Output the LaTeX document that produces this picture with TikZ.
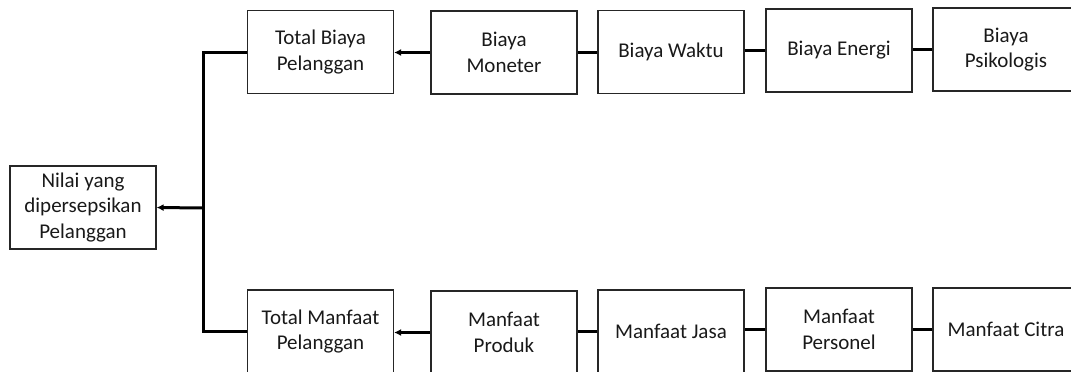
\documentclass[tikz,border=0pt]{standalone}
\usepackage{fontspec}
\setmainfont{Carlito}
\usetikzlibrary{arrows.meta,calc}
\begin{document}
\begin{tikzpicture}[x=1pt,y=-1pt,
  box/.style={draw=black!85,line width=1.2pt,minimum width=146pt,minimum height=83pt,
    inner sep=0pt,align=flush center,text width=142pt,
    font=\fontsize{21pt}{25.4pt}\selectfont,text=black!90},
  link/.style={line width=3pt,draw=black},
  arr/.style={link,-{Latex[length=7pt,width=7pt]}}]
\useasboundingbox (0,0) rectangle (1071,372);
\clip (0,0) rectangle (1071,372);
\node[box] (nilai) at (83,207.5) {Nilai yang\\dipersepsikan\\Pelanggan};
\node[box] (tb) at (320.5,52) {Total Biaya\\Pelanggan};
\node[box] (bm) at (504,52.5) {Biaya\\Moneter};
\node[box] (bw) at (671,52) {Biaya Waktu};
\node[box] (be) at (839,50.5) {Biaya Energi};
\node[box] (bp) at (1006,49.5) {Biaya\\Psikologis};
\node[box] (tm) at (320.5,331.5) {Total Manfaat\\Pelanggan};
\node[box] (mp) at (504,332.5) {Manfaat\\Produk};
\node[box] (mj) at (671,331.5) {Manfaat Jasa};
\node[box] (mr) at (839,329.5) {Manfaat\\Personel};
\node[box] (mc) at (1006,329.5) {Manfaat Citra};
\coordinate (bus) at (203,208);
\draw[link] (tb.west) -| (bus) |- (tm.west);
\draw[arr] (bus) -- (nilai.east);
\draw[arr] (bm.west) -- (bm.west -| tb.east);
\draw[link] (bw.west) -- (bw.west -| bm.east);
\draw[link] (be.west) -- (be.west -| bw.east);
\draw[link] (bp.west) -- (bp.west -| be.east);
\draw[arr] (mp.west) -- (mp.west -| tm.east);
\draw[link] (mj.west) -- (mj.west -| mp.east);
\draw[link] (mr.west) -- (mr.west -| mj.east);
\draw[link] (mc.west) -- (mc.west -| mr.east);
\end{tikzpicture}
\end{document}
